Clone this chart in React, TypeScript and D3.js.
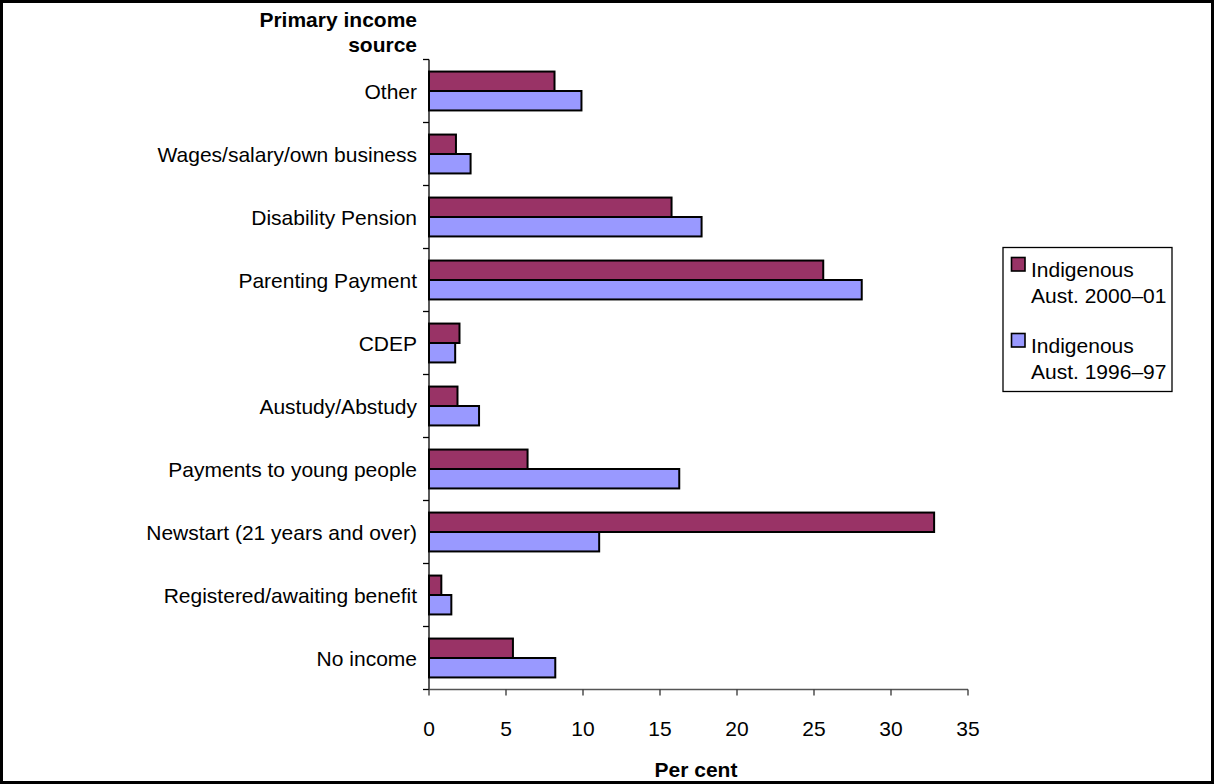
import React from "react";
import * as d3 from "d3";

const categories = [
  "Other",
  "Wages/salary/own business",
  "Disability Pension",
  "Parenting Payment",
  "CDEP",
  "Austudy/Abstudy",
  "Payments to young people",
  "Newstart (21 years and over)",
  "Registered/awaiting benefit",
  "No income",
];
const series2000 = [8.15, 1.75, 15.75, 25.6, 1.98, 1.85, 6.4, 32.8, 0.8, 5.45];
const series1996 = [9.9, 2.7, 17.7, 28.1, 1.7, 3.25, 16.25, 11.05, 1.45, 8.2];
const seriesNames = ["Indigenous Aust. 2000–01", "Indigenous Aust. 1996–97"];
const legendLines = [
  ["Indigenous", "Aust. 2000–01"],
  ["Indigenous", "Aust. 1996–97"],
];
const colors = ["#993366", "#9999FF"];
const xTicks = [0, 5, 10, 15, 20, 25, 30, 35];

const W = 1214;
const H = 784;
const plot = { left: 429, right: 968, top: 59.5, bottom: 689.5 };
const FONT = "Liberation Sans, Arial, Helvetica, sans-serif";

export default function App() {
  const x = d3.scaleLinear().domain([0, 35]).range([plot.left, plot.right]);
  const y0 = d3.scaleBand<string>().domain(categories).range([plot.top, plot.bottom]).padding(0);
  const y1 = d3
    .scaleBand<string>()
    .domain(seriesNames)
    .range([0, y0.bandwidth()])
    .paddingInner(0)
    .paddingOuter(0.62);
  const data = [series2000, series1996];
  const boundaries = categories.map((c) => y0(c) as number).concat([plot.bottom]);

  return (
    <svg
      width={W}
      height={H}
      style={{ position: "absolute", left: 0, top: 0, background: "#fff" }}
      fontFamily={FONT}
    >
      <rect x={0} y={0} width={W} height={H} fill="#fff" />
      <rect x={1.5} y={1.5} width={W - 3} height={H - 3} fill="none" stroke="#000" strokeWidth={3} />

      {/* y-axis title */}
      <text x={417} y={27} textAnchor="end" fontSize={21} fontWeight="bold" fill="#000">
        Primary income
      </text>
      <text x={417} y={52} textAnchor="end" fontSize={21} fontWeight="bold" fill="#000">
        source
      </text>

      {/* bars */}
      {categories.map((c, i) => (
        <g key={c}>
          {data.map((s, k) => (
            <rect
              key={k}
              x={x(0)}
              y={(y0(c) as number) + (y1(seriesNames[k]) as number)}
              width={x(s[i]) - x(0)}
              height={y1.bandwidth()}
              fill={colors[k]}
              stroke="#000"
              strokeWidth={2}
            />
          ))}
        </g>
      ))}

      {/* y axis */}
      <line x1={plot.left} x2={plot.left} y1={plot.top} y2={plot.bottom} stroke="#000" strokeWidth={1.3} />
      {boundaries.map((b, i) => (
        <line key={i} x1={plot.left - 6} x2={plot.left} y1={b} y2={b} stroke="#000" strokeWidth={1.3} />
      ))}
      {categories.map((c) => (
        <text
          key={c}
          x={417}
          y={(y0(c) as number) + y0.bandwidth() / 2 + 7.5}
          textAnchor="end"
          fontSize={21}
          fill="#000"
        >
          {c}
        </text>
      ))}

      {/* x axis */}
      <line x1={plot.left} x2={plot.right} y1={plot.bottom} y2={plot.bottom} stroke="#555" strokeWidth={1.6} />
      {xTicks.map((t) => (
        <g key={t}>
          <line x1={x(t)} x2={x(t)} y1={plot.bottom} y2={plot.bottom + 6} stroke="#333" strokeWidth={1.3} />
          <text x={x(t)} y={735.5} textAnchor="middle" fontSize={21} fill="#000">
            {t}
          </text>
        </g>
      ))}
      <text x={696} y={777} textAnchor="middle" fontSize={21} fontWeight="bold" fill="#000">
        Per cent
      </text>

      {/* legend */}
      <rect x={1003} y={247.5} width={169} height={144} fill="#fff" stroke="#000" strokeWidth={1.3} />
      {legendLines.map((lines, k) => (
        <g key={k} transform={`translate(0, ${k * 76})`}>
          <rect x={1011.5} y={257.5} width={13.5} height={13.5} fill={colors[k]} stroke="#000" strokeWidth={1.6} />
          <text x={1031} y={277} fontSize={21} fill="#000">
            {lines[0]}
          </text>
          <text x={1031} y={303} fontSize={21} fill="#000">
            {lines[1]}
          </text>
        </g>
      ))}
    </svg>
  );
}
